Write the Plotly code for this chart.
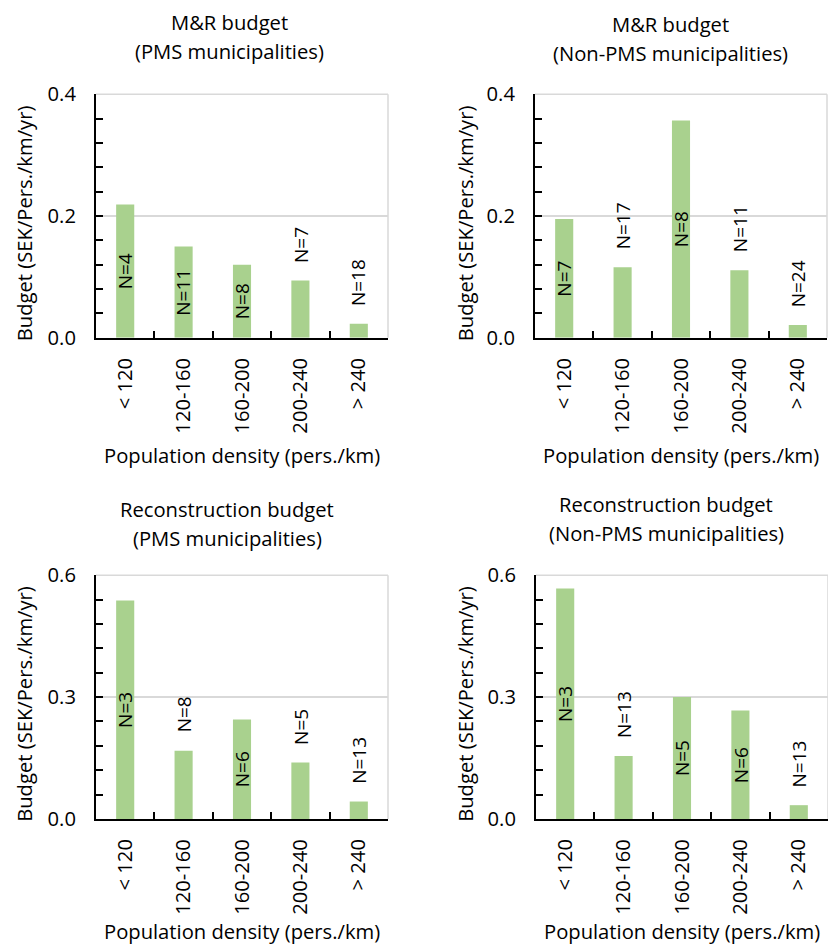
import plotly.graph_objects as go

# ---------------- data ----------------
categories = ["< 120", "120-160", "160-200", "200-240", "> 240"]

mr_pms = [0.219, 0.150, 0.120, 0.094, 0.023]
mr_pms_n = [4, 11, 8, 7, 18]
mr_pms_pos = ["in", "in", "in", "out", "out"]

mr_nonpms = [0.195, 0.116, 0.357, 0.111, 0.021]
mr_nonpms_n = [7, 17, 8, 11, 24]
mr_nonpms_pos = ["in", "out", "in", "out", "out"]

rc_pms = [0.538, 0.168, 0.245, 0.139, 0.043]
rc_pms_n = [3, 8, 6, 5, 13]
rc_pms_pos = ["in", "out", "in", "out", "out"]

rc_nonpms = [0.567, 0.155, 0.300, 0.267, 0.034]
rc_nonpms_n = [3, 13, 5, 6, 13]
rc_nonpms_pos = ["in", "out", "in", "in", "out"]

title_line1 = ["M&R budget", "M&R budget", "Reconstruction budget", "Reconstruction budget"]
title_line2 = ["(PMS municipalities)", "(Non-PMS municipalities)",
               "(PMS municipalities)", "(Non-PMS municipalities)"]
y_title = "Budget (SEK/Pers./km/yr)"
x_title = "Population density (pers./km)"

# ---------------- style / layout ----------------
W, H = 828, 946
FONT = "Open Sans"
BAR_COLOR = "#a9d18e"
GRID = "#d9d9d9"
FS = 20.2
NFS = 19

# the photographed page shows the figure with a small vertical band; map
# intended on-screen rows to figure rows
BAND = 14
SCALE = (H + 2 * BAND) / H

def row(y):
    return min(max(y * SCALE - BAND, 0), H)

def px_x(p):
    return p / W

def px_y(p):
    return 1 - row(p) / H

panels = [
    dict(vals=mr_pms, n=mr_pms_n, pos=mr_pms_pos, x0=96, x1=388, ytop=93, ybot=336.7,
         rng=0.4, dt=0.2, mdt=0.04, tx=229, t1=21, t2=50, ytx=24, yty=222, xty=454),
    dict(vals=mr_nonpms, n=mr_nonpms_n, pos=mr_nonpms_pos, x0=535, x1=827, ytop=93, ybot=336.7,
         rng=0.4, dt=0.2, mdt=0.04, tx=670, t1=23, t2=52, ytx=465, yty=222, xty=454),
    dict(vals=rc_pms, n=rc_pms_n, pos=rc_pms_pos, x0=96, x1=388, ytop=574.3, ybot=818.3,
         rng=0.6, dt=0.3, mdt=0.06, tx=227, t1=508, t2=537, ytx=24, yty=703, xty=930),
    dict(vals=rc_nonpms, n=rc_nonpms_n, pos=rc_nonpms_pos, x0=536, x1=828, ytop=574.3, ybot=818.3,
         rng=0.6, dt=0.3, mdt=0.06, tx=666, t1=503, t2=532, ytx=465, yty=703, xty=930),
]

fig = go.Figure()
annotations = []
shapes = []
layout = dict(
    width=W, height=H,
    margin=dict(l=0, r=0, t=0, b=0),
    paper_bgcolor="white", plot_bgcolor="white",
    showlegend=False,
    font=dict(family=FONT, size=FS, color="black"),
)

for i, p in enumerate(panels):
    k = "" if i == 0 else str(i + 1)
    xa, ya = "x" + k, "y" + k
    fig.add_trace(go.Bar(
        x=categories, y=p["vals"], marker=dict(color=BAR_COLOR, line=dict(width=0)),
        xaxis=xa, yaxis=ya, hoverinfo="skip",
    ))
    layout["xaxis" + k] = dict(
        domain=[px_x(p["x0"]), min(px_x(p["x1"]), 1.0)], anchor=ya,
        type="category", tickson="boundaries", ticks="inside", ticklen=7, tickwidth=1.5,
        tickcolor="black", tickangle=-90, showline=True, linecolor="black", linewidth=2,
        showgrid=False, zeroline=False, ticklabelstandoff=10,
        tickfont=dict(family=FONT, size=FS, color="black"), fixedrange=True,
    )
    layout["yaxis" + k] = dict(
        domain=[px_y(p["ybot"]), px_y(p["ytop"])], anchor=xa,
        range=[0, p["rng"]], dtick=p["dt"], tick0=0, tickformat=".1f",
        ticks="inside", ticklen=7, tickwidth=1.5, tickcolor="black",
        showline=True, linecolor="black", linewidth=2,
        showgrid=True, gridcolor=GRID, gridwidth=1.5, zeroline=False,
        minor=dict(dtick=p["mdt"], tick0=0, ticks="inside", ticklen=7, tickwidth=1.5,
                   tickcolor="black", showgrid=False),
        ticklabelstandoff=14,
        tickfont=dict(family=FONT, size=FS, color="black"), fixedrange=True,
    )
    shapes.append(dict(type="line", xref=xa + " domain", yref=ya + " domain",
                       x0=1, x1=1, y0=0, y1=1, line=dict(color=GRID, width=1.5)))
    shapes.append(dict(type="line", xref=xa + " domain", yref=ya + " domain",
                       x0=0, x1=1, y0=1, y1=1, line=dict(color=GRID, width=1.5)))
    for c, v, n, ps in zip(categories, p["vals"], p["n"], p["pos"]):
        if ps == "in":
            annotations.append(dict(x=c, y=v / 2, xref=xa, yref=ya, text=f"N={n}",
                                    textangle=-90, showarrow=False, yanchor="middle",
                                    xanchor="center", font=dict(size=NFS, color="black")))
        else:
            annotations.append(dict(x=c, y=v, xref=xa, yref=ya, text=f"N={n}",
                                    textangle=-90, showarrow=False, yanchor="bottom",
                                    xanchor="center", yshift=16,
                                    font=dict(size=NFS, color="black")))
    annotations.append(dict(x=px_x(p["tx"]), y=px_y(p["t1"]), xref="paper", yref="paper",
                            text=title_line1[i], showarrow=False, xanchor="center",
                            yanchor="middle", font=dict(size=FS)))
    annotations.append(dict(x=px_x(p["tx"]), y=px_y(p["t2"]), xref="paper", yref="paper",
                            text=title_line2[i], showarrow=False, xanchor="center",
                            yanchor="middle", font=dict(size=FS)))
    annotations.append(dict(x=px_x(p["ytx"]), y=px_y(p["yty"]), xref="paper", yref="paper",
                            text=y_title, textangle=-90, showarrow=False,
                            xanchor="center", yanchor="middle", font=dict(size=FS)))
    annotations.append(dict(x=(px_x(p["x0"]) + px_x(p["x1"])) / 2, y=px_y(p["xty"]),
                            xref="paper", yref="paper", text=x_title, showarrow=False,
                            xanchor="center", yanchor="middle", font=dict(size=FS)))

layout["annotations"] = annotations
layout["shapes"] = shapes
layout["bargap"] = 0.69
fig.update_layout(**layout)
fig.write_html("out.html")
